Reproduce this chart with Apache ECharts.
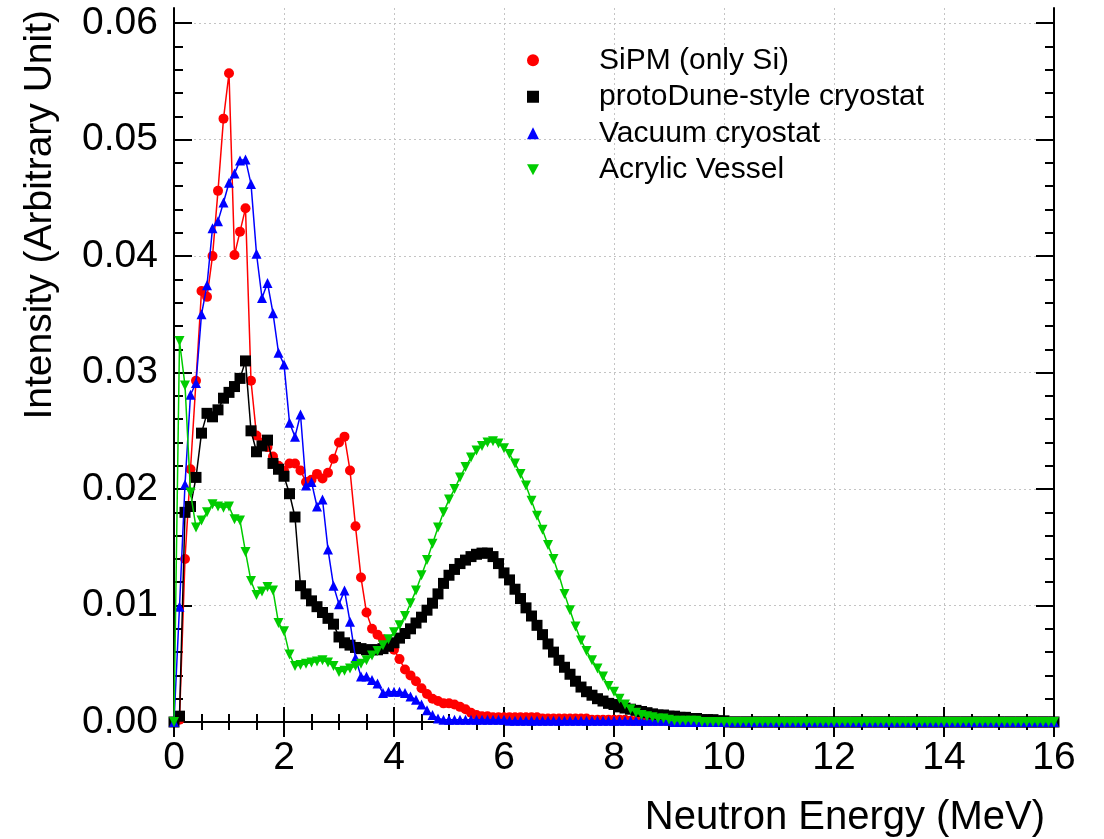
<!DOCTYPE html>
<html><head><meta charset="utf-8">
<script src="https://cdn.jsdelivr.net/npm/echarts@6/dist/echarts.min.js"></script>
<style>html,body{margin:0;padding:0;background:#fff}#c{width:1104px;height:839px}</style>
</head><body><div id="c"></div>
<script>
// Histogram points: energy = index * ENERGY_STEP (MeV)
const ENERGY_STEP = 0.1;
const seriesNames = ['SiPM (only Si)', 'protoDune-style cryostat', 'Vacuum cryostat', 'Acrylic Vessel'];
const xTicks = [0, 2, 4, 6, 8, 10, 12, 14, 16];
const yTicks = [0, 0.01, 0.02, 0.03, 0.04, 0.05, 0.06];

const sipm = [
  0, 0.0002, 0.0140, 0.0217, 0.0293, 0.0370, 0.0365, 0.0400, 0.0456, 0.0518,
  0.0557, 0.0401, 0.0421, 0.0441, 0.0293, 0.0246, 0.0240, 0.0236, 0.0228, 0.0220,
  0.0216, 0.0222, 0.0222, 0.0216, 0.0206, 0.0208, 0.0213, 0.0209, 0.0214, 0.0226,
  0.0240, 0.0245, 0.0216, 0.0168, 0.0124, 0.0094, 0.0080, 0.0075, 0.0071, 0.0068,
  0.0062, 0.0054, 0.0045, 0.0040, 0.0035, 0.0029, 0.0024, 0.0020, 0.0018, 0.0016,
  0.0016, 0.0015, 0.0013, 0.0011, 0.0008, 0.0006, 0.0005, 0.0005, 0.0004, 0.0004,
  0.0004, 0.0004, 0.0004, 0.0004, 0.0004, 0.0004, 0.0004, 0.0003, 0.0003, 0.0003,
  0.0003, 0.0003, 0.0003, 0.0003, 0.0003, 0.0003, 0.0002, 0.0002, 0.0002, 0.0002,
  0.0002, 0.0002, 0.0002, 0.0001, 0.0001, 0.0001, 0.0001, 0.0001, 0.0001, 0.0001,
  0.0001, 0, 0, 0, 0, 0, 0, 0, 0, 0,
  0, 0, 0, 0, 0, 0, 0, 0, 0, 0,
  0, 0, 0, 0, 0, 0, 0, 0, 0, 0,
  0, 0, 0, 0, 0, 0, 0, 0, 0, 0,
  0, 0, 0, 0, 0, 0, 0, 0, 0, 0,
  0, 0, 0, 0, 0, 0, 0, 0, 0, 0,
  0, 0, 0, 0, 0, 0, 0, 0, 0, 0,
  0
];
const protoDune = [
  0, 0.0005, 0.0180, 0.0185, 0.0210, 0.0248, 0.0265, 0.0262, 0.0268, 0.0278,
  0.0283, 0.0288, 0.0295, 0.0310, 0.0250, 0.0232, 0.0237, 0.0242, 0.0222, 0.0217,
  0.0211, 0.0196, 0.0176, 0.0117, 0.0110, 0.0104, 0.0099, 0.0094, 0.0089, 0.0084,
  0.0073, 0.0068, 0.0066, 0.0064, 0.0063, 0.0062, 0.0062, 0.0062, 0.0063, 0.0065,
  0.0068, 0.0072, 0.0076, 0.0080, 0.0085, 0.0090, 0.0096, 0.0102, 0.0110, 0.0119,
  0.0126, 0.0131, 0.0136, 0.0139, 0.0142, 0.0144, 0.0145, 0.0145, 0.0142, 0.0136,
  0.0128, 0.0122, 0.0114, 0.0106, 0.0098, 0.0091, 0.0083, 0.0075, 0.0067, 0.0060,
  0.0053, 0.0047, 0.0041, 0.0035, 0.0030, 0.0026, 0.0023, 0.0020, 0.0018, 0.0016,
  0.0015, 0.0013, 0.0012, 0.0011, 0.0010, 0.0009, 0.0008, 0.0007, 0.0006, 0.0006,
  0.0005, 0.0005, 0.0004, 0.0004, 0.0003, 0.0003, 0.0002, 0.0002, 0.0002, 0.0001,
  0.0001, 0, 0, 0, 0, 0, 0, 0, 0, 0,
  0, 0, 0, 0, 0, 0, 0, 0, 0, 0,
  0, 0, 0, 0, 0, 0, 0, 0, 0, 0,
  0, 0, 0, 0, 0, 0, 0, 0, 0, 0,
  0, 0, 0, 0, 0, 0, 0, 0, 0, 0,
  0, 0, 0, 0, 0, 0, 0, 0, 0, 0,
  0
];
const vacuum = [
  0, 0.0099, 0.0204, 0.0281, 0.0291, 0.0350, 0.0375, 0.0424, 0.0430, 0.0446,
  0.0463, 0.0471, 0.0482, 0.0483, 0.0462, 0.0402, 0.0364, 0.0377, 0.0351, 0.0317,
  0.0307, 0.0257, 0.0245, 0.0264, 0.0203, 0.0206, 0.0185, 0.0191, 0.0148, 0.0117,
  0.0101, 0.0113, 0.0086, 0.0055, 0.0039, 0.0039, 0.0036, 0.0033, 0.0025, 0.0026,
  0.0026, 0.0026, 0.0025, 0.0022, 0.0019, 0.0015, 0.0010, 0.0006, 0.0003, 0.0002,
  0.0002, 0.0002, 0.0002, 0.0002, 0.0002, 0.0002, 0.0002, 0.0002, 0.0002, 0.0002,
  0.0002, 0.0001, 0.0001, 0.0001, 0.0001, 0.0001, 0.0001, 0.0001, 0.0001, 0.0001,
  0.0001, 0.0001, 0.0001, 0.0001, 0.0001, 0.0001, 0.0001, 0.0001, 0.0001, 0.0001,
  0.0001, 0.0001, 0.0001, 0.0001, 0.0001, 0.0001, 0.0001, 0.0001, 0.0001, 0.0001,
  0.0001, 0, 0, 0, 0, 0, 0, 0, 0, 0,
  0, 0, 0, 0, 0, 0, 0, 0, 0, 0,
  0, 0, 0, 0, 0, 0, 0, 0, 0, 0,
  0, 0, 0, 0, 0, 0, 0, 0, 0, 0,
  0, 0, 0, 0, 0, 0, 0, 0, 0, 0,
  0, 0, 0, 0, 0, 0, 0, 0, 0, 0,
  0, 0, 0, 0, 0, 0, 0, 0, 0, 0,
  0
];
const acrylic = [
  0, 0.0327, 0.0289, 0.0197, 0.0167, 0.0173, 0.0180, 0.0187, 0.0185, 0.0184,
  0.0185, 0.0174, 0.0173, 0.0146, 0.0121, 0.0109, 0.0112, 0.0116, 0.0113, 0.0085,
  0.0078, 0.0058, 0.0048, 0.0049, 0.0050, 0.0051, 0.0052, 0.0053, 0.0051, 0.0048,
  0.0043, 0.0044, 0.0046, 0.0048, 0.0050, 0.0053, 0.0057, 0.0061, 0.0066, 0.0071,
  0.0077, 0.0083, 0.0091, 0.0102, 0.0113, 0.0126, 0.0139, 0.0153, 0.0167, 0.0180,
  0.0191, 0.0200, 0.0210, 0.0219, 0.0227, 0.0233, 0.0237, 0.0240, 0.0241, 0.0239,
  0.0235, 0.0230, 0.0222, 0.0213, 0.0203, 0.0190, 0.0177, 0.0165, 0.0152, 0.0140,
  0.0126, 0.0110, 0.0096, 0.0082, 0.0070, 0.0061, 0.0053, 0.0046, 0.0039, 0.0031,
  0.0026, 0.0020, 0.0015, 0.0011, 0.0008, 0.0006, 0.0005, 0.0004, 0.0003, 0.0003,
  0.0002, 0.0001, 0.0001, 0.0001, 0.0001, 0.0001, 0, 0, 0, 0,
  0, 0, 0, 0, 0, 0, 0, 0, 0, 0,
  0, 0, 0, 0, 0, 0, 0, 0, 0, 0,
  0, 0, 0, 0, 0, 0, 0, 0, 0, 0,
  0, 0, 0, 0, 0, 0, 0, 0, 0, 0,
  0, 0, 0, 0, 0, 0, 0, 0, 0, 0,
  0, 0, 0, 0, 0, 0, 0, 0, 0, 0,
  0
];

const FONT = 'Liberation Sans, Arial, Helvetica, sans-serif';
const Y_MAX = 0.0613;
const yMinor = [];
for (let i = 1; i <= 30; i++) { if (i % 5 !== 0) yMinor.push(+(i * 0.002).toFixed(3)); }
const toPairs = arr => arr.map((v, i) => [+(i * ENERGY_STEP).toFixed(1), v]);
const downTri = 'path://M0,0 L10,0 L5,9 Z';

const colors = ['#ff0000', '#000000', '#0000ff', '#00cc00'];
const symbols = ['circle', 'rect', 'triangle', downTri];
const sizes = [10, 11, 10, 10];
const values = [sipm, protoDune, vacuum, acrylic];

const chart = echarts.init(document.getElementById('c'), null, {renderer: 'canvas'});
const axisLine = {show: true, lineStyle: {color: '#000', width: 2}};
const gridLine = {show: true, lineStyle: {color: '#c4c4c4', width: 1, type: [2, 3]}};

const option = {
  animation: false,
  backgroundColor: '#fff',
  textStyle: {fontFamily: FONT},
  grid: {left: 174, right: 50, top: 8, bottom: 117, outerBoundsMode: 'none', containLabel: false},
  legend: {
    orient: 'vertical', left: 522, top: 37, itemGap: 0,
    itemWidth: 12, itemHeight: 12, symbolKeepAspect: true,
    textStyle: {fontFamily: FONT, fontSize: 30, color: '#000', lineHeight: 36.5, padding: [0, 0, 0, 55]},
    data: seriesNames.map((n, i) => ({name: n, icon: symbols[i], itemStyle: {color: colors[i]}}))
  },
  xAxis: [
    {type: 'value', position: 'bottom', min: 0, max: 16, interval: 2,
     axisLine, splitLine: gridLine,
     axisTick: {show: true, inside: true, length: 15, lineStyle: {color: '#000', width: 2}},
     minorTick: {show: true, splitNumber: 4, length: 8, lineStyle: {color: '#000', width: 2}},
     axisLabel: {fontFamily: FONT, fontSize: 39, color: '#000', margin: 17,
       customValues: xTicks}},
    {type: 'value', position: 'top', min: 0, max: 16, interval: 2,
     axisLine, splitLine: {show: false},
     axisTick: {show: true, inside: true, length: 15, lineStyle: {color: '#000', width: 2}},
     minorTick: {show: true, splitNumber: 4, length: 8, lineStyle: {color: '#000', width: 2}},
     axisLabel: {show: false}}
  ],
  yAxis: [
    {type: 'value', position: 'left', min: 0, max: Y_MAX, interval: 0.01,
     axisLine, splitLine: gridLine,
     axisTick: {show: true, inside: true, length: 18, customValues: yTicks, lineStyle: {color: '#000', width: 2}},
     axisLabel: {fontFamily: FONT, fontSize: 39, color: '#000', margin: 16,
       customValues: yTicks, formatter: v => v.toFixed(2)}},
    {type: 'value', position: 'left', min: 0, max: Y_MAX,
     axisLine: {show: false}, splitLine: {show: false}, axisLabel: {show: false},
     axisTick: {show: true, inside: true, length: 9, customValues: yMinor, lineStyle: {color: '#000', width: 2}}},
    {type: 'value', position: 'right', min: 0, max: Y_MAX,
     axisLine, splitLine: {show: false}, axisLabel: {show: false},
     axisTick: {show: true, inside: true, length: 18, customValues: yTicks, lineStyle: {color: '#000', width: 2}}},
    {type: 'value', position: 'right', min: 0, max: Y_MAX,
     axisLine: {show: false}, splitLine: {show: false}, axisLabel: {show: false},
     axisTick: {show: true, inside: true, length: 9, customValues: yMinor, lineStyle: {color: '#000', width: 2}}}
  ],
  graphic: [
    {type: 'text', x: 1045, y: 818,
     style: {text: 'Neutron Energy (MeV)', font: '40px ' + FONT, fill: '#000', align: 'right', verticalAlign: 'middle'}},
    {type: 'text', x: 40, y: 10, rotation: Math.PI / 2,
     style: {text: 'Intensity (Arbitrary Unit)', font: '39px ' + FONT, fill: '#000', align: 'right', verticalAlign: 'middle'}}
  ],
  series: seriesNames.map((n, i) => ({
    name: n, type: 'line', xAxisIndex: 0, yAxisIndex: 0,
    data: toPairs(values[i]),
    symbol: symbols[i], symbolSize: sizes[i], showAllSymbol: true,
    lineStyle: {color: colors[i], width: 1.5},
    itemStyle: {color: colors[i]},
    emphasis: {disabled: true},
    z: 2 + i
  }))
};
chart.setOption(option);
</script></body></html>
